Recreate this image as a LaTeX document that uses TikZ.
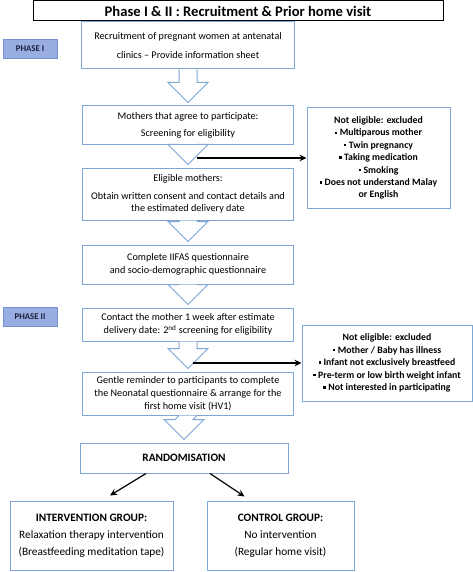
\documentclass[tikz,border=0pt]{standalone}
\usepackage{fontspec}
\setmainfont{Carlito}
\usetikzlibrary{calc,arrows.meta}
\definecolor{boxblue}{HTML}{7FA7D6}
\definecolor{phasefill}{HTML}{98AEE2}
\definecolor{phaseline}{HTML}{7590CC}
\definecolor{phasetext}{HTML}{1A1F3A}
\tikzset{
  flowbox/.style={draw=boxblue, line width=1pt, fill=white, align=center, inner sep=2pt,
    font=\fontsize{10.2}{13}\selectfont},
  exbox/.style={draw=boxblue, line width=1pt, fill=white, align=center, inner sep=2pt,
    font=\fontsize{9.8}{12.4}\selectfont\bfseries},
  groupbox/.style={flowbox, font=\fontsize{11.3}{13}\selectfont},
  phaselbl/.style={draw=phaseline, line width=0.8pt, fill=phasefill, text=phasetext,
    minimum width=54pt, minimum height=19pt, inner sep=0pt, font=\fontsize{8.8}{10}\selectfont\bfseries},
  harrow/.style={draw=boxblue, line width=1pt, fill=white, line join=miter},
  blackarr/.style={draw=black, line width=1.2pt, -{Stealth[length=7pt,width=6.5pt]}},
}
\newcommand{\sqb}{\rule[1.8pt]{2.4pt}{2.4pt}\hspace{2.5pt}}
\newcommand{\hollowarrow}[2]{%
  \draw[harrow] ($(#1.south)+(-9pt,0)$) -- ($(#2.north)+(-9pt,23pt)$) -- ($(#2.north)+(-20pt,23pt)$)
    -- ($(#2.north)+(0,3pt)$) -- ($(#2.north)+(20pt,23pt)$) -- ($(#2.north)+(9pt,23pt)$)
    -- ($(#1.south)+(9pt,0)$);}
\begin{document}
\begin{tikzpicture}[x=1pt,y=-1pt]
\useasboundingbox (0,0) rectangle (473,572);
\fill[white] (0,0) rectangle (473,572);

\node[draw=black, line width=1pt, minimum width=410pt, minimum height=20pt, inner sep=0pt,
  font=\fontsize{14.6}{15}\selectfont\bfseries] (title) at (238,11) {Phase I \& II : Recruitment \& Prior home visit};

\node[phaselbl] (ph1) at (30,49) {PHASE I};
\node[phaselbl] (ph2) at (30,317) {PHASE II};

\node[flowbox, minimum width=213pt, minimum height=47pt] (b1) at (188,45.5)
  {Recruitment of pregnant women at antenatal\\[6pt] clinics – Provide information sheet};
\node[flowbox, minimum width=211pt, minimum height=39pt] (b2) at (188,125.5)
  {Mothers that agree to participate:\\[4pt] Screening for eligibility};
\node[flowbox, minimum width=211pt, minimum height=52pt] (b3) at (188,194)
  {Eligible mothers:\\[5pt] Obtain written consent and contact details and\\[-1.5pt] the estimated delivery date};
\node[flowbox, minimum width=211pt, minimum height=39pt] (b4) at (188,264.5)
  {Complete IIFAS questionnaire\\ and socio-demographic questionnaire};
\node[flowbox, minimum width=211pt, minimum height=33pt] (b5) at (188,324.5)
  {Contact the mother 1 week after estimate\\ delivery date: 2\textsuperscript{nd} screening for eligibility};
\node[flowbox, minimum width=211pt, minimum height=43pt] (b6) at (188,393.5)
  {Gentle reminder to participants to complete\\ the Neonatal questionnaire \& arrange for the\\ first home visit (HV1)};
\node[flowbox, minimum width=208pt, minimum height=30pt, font=\fontsize{11.3}{13}\selectfont\bfseries] (b7) at (184,458)
  {RANDOMISATION};

\node[groupbox, minimum width=163pt, minimum height=69pt] (int) at (91.5,535.5)
  {\textbf{INTERVENTION GROUP:}\\[4pt] Relaxation therapy intervention\\[4pt] (Breastfeeding meditation tape)};
\node[groupbox, minimum width=147pt, minimum height=69pt] (ctl) at (280.5,535.5)
  {\textbf{CONTROL GROUP:}\\[4pt] No intervention\\[4pt] (Regular home visit)};

\node[exbox, minimum width=143pt, minimum height=100pt] (ex1) at (378.5,158)
  {Not eligible: excluded\\ \sqb Multiparous mother\\ \sqb Twin pregnancy\\ \sqb Taking medication\\ \sqb Smoking\\ \sqb Does not understand Malay\\ or English};
\node[exbox, minimum width=170pt, minimum height=76pt] (ex2) at (387,363)
  {Not eligible: excluded\\ \sqb Mother / Baby has illness\\ \sqb Infant not exclusively breastfeed\\ \sqb Pre-term or low birth weight infant\\ \sqb Not interested in participating};

\hollowarrow{b1}{b2}
\hollowarrow{b2}{b3}
\hollowarrow{b3}{b4}
\hollowarrow{b4}{b5}
\hollowarrow{b5}{b6}
\hollowarrow{b6}{b7}

\coordinate (c1) at (197,158);
\coordinate (c2) at (193,363);
\draw[blackarr] (c1) -- (c1 -| ex1.west);
\draw[blackarr] (c2) -- (c2 -| ex2.west);

\draw[blackarr] ([xshift=-38pt]b7.south) -- ([xshift=18.5pt,yshift=5pt]int.north);
\draw[blackarr] ([xshift=26pt]b7.south) -- ([xshift=-36pt,yshift=4pt]ctl.north);
\end{tikzpicture}
\end{document}
